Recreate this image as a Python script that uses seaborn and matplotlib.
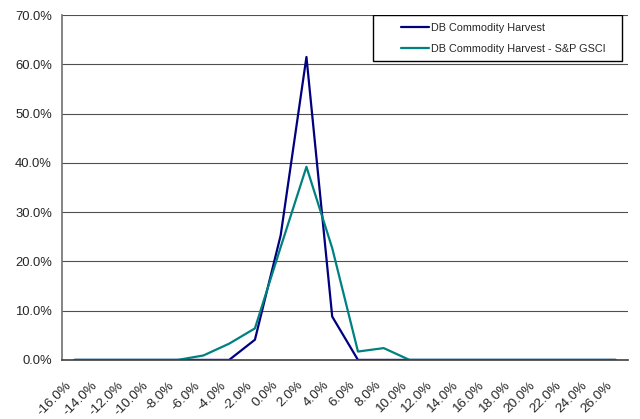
import numpy as np
import pandas as pd
import seaborn as sns
import matplotlib.pyplot as plt
import matplotlib.transforms as mtransforms
from matplotlib.patches import Rectangle
from matplotlib.ticker import FuncFormatter, MultipleLocator

# return buckets (%), one per category
buckets = [-16, -14, -12, -10, -8, -6, -4, -2, 0, 2, 4, 6, 8, 10,
           12, 14, 16, 18, 20, 22, 24, 26]
harvest = [0, 0, 0, 0, 0, 0, 0, 4.1, 25.3, 61.5, 8.8, 0, 0, 0,
           0, 0, 0, 0, 0, 0, 0, 0]
harvest_vs_gsci = [0, 0, 0, 0, 0, 0.9, 3.3, 6.4, 22.9, 39.2, 22.7, 1.7, 2.4, 0,
                   0, 0, 0, 0, 0, 0, 0, 0]
series_names = ["DB Commodity Harvest", "DB Commodity Harvest - S&P GSCI"]
colors = ["#000080", "#008080"]

df = pd.concat([
    pd.DataFrame({"bucket": buckets, "freq": np.array(harvest) / 100, "series": series_names[0]}),
    pd.DataFrame({"bucket": buckets, "freq": np.array(harvest_vs_gsci) / 100, "series": series_names[1]}),
])

sns.set_style("white")
plt.rcParams['font.family'] = ['Liberation Sans', 'DejaVu Sans']

fig, ax = plt.subplots(figsize=(6.4, 4.19), dpi=100)
fig.subplots_adjust(left=0.0964, right=0.982, top=0.964, bottom=0.141)

sns.lineplot(data=df, x="bucket", y="freq", hue="series", hue_order=series_names,
             palette=dict(zip(series_names, colors)), linewidth=1.6, ax=ax)

ax.set_xlim(buckets[0] - 1, buckets[-1] + 1)
ax.set_ylim(0, 0.7)
ax.set_xlabel("")
ax.set_ylabel("")

# labels at category centres, tick marks at the category boundaries
ax.set_xticks(buckets)
ax.xaxis.set_minor_locator(MultipleLocator(2, offset=1))
ax.tick_params(axis="x", which="major", length=0, pad=17)
ax.tick_params(axis="x", which="minor", length=5, width=1, color="#404040", direction="out")
ax.set_xticklabels([f"{b:.1f}%" for b in buckets], rotation=45, ha="right",
                   va="center", rotation_mode="anchor", fontsize=9.7)
shift = mtransforms.ScaledTranslation(-5 / 100, 0, fig.dpi_scale_trans)
for lab in ax.get_xticklabels():
    lab.set_transform(lab.get_transform() + shift)

ax.yaxis.set_major_locator(MultipleLocator(0.1))
ax.yaxis.set_major_formatter(FuncFormatter(lambda v, p: f"{v*100:.1f}%"))
ax.tick_params(axis="y", length=5, width=1, color="#202020", direction="out", labelsize=9.4, pad=2)
ax.grid(axis="y", color="#505050", linewidth=0.8)
ax.set_axisbelow(True)

sns.despine(ax=ax, top=True, right=True)
ax.spines["left"].set_color("#707070")
ax.spines["bottom"].set_color("#404040")
ax.spines["left"].set_linewidth(1.2)
ax.spines["bottom"].set_linewidth(1.2)

# legend frame drawn separately so the entries can sit inset like the original
frame = Rectangle((0.549, 0.867), 0.439, 0.133, transform=ax.transAxes,
                  facecolor="white", edgecolor="black", linewidth=1.0, zorder=4)
ax.add_patch(frame)
leg = ax.legend(loc="upper left", bbox_to_anchor=(0.584, 1.0), borderaxespad=0,
                fontsize=7.8, handlelength=2.6, handletextpad=0.2, labelspacing=0.95,
                borderpad=0.75, frameon=False)
leg.set_zorder(5)

plt.savefig("out.png", dpi=100)
